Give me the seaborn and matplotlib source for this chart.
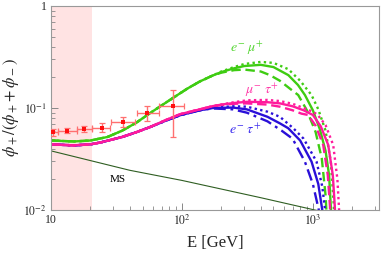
import matplotlib
matplotlib.use("Agg")
import matplotlib.pyplot as plt
import matplotlib.ticker as mticker
import numpy as np
import seaborn as sns

# --- data (E in GeV, ratio phi+/(phi+ + phi-)) ---
green_low_E = [10, 15, 20, 27, 35, 45, 57, 70, 85, 110, 137, 170]
green_low_v = [0.048, 0.047, 0.048, 0.052, 0.060, 0.072, 0.089, 0.106, 0.125, 0.155, 0.182, 0.207]

green_solid_E = [200, 250, 300, 400, 500, 650, 770, 870, 1000, 1130, 1250, 1330, 1370, 1385]
green_solid_v = [0.225, 0.245, 0.258, 0.265, 0.252, 0.21, 0.168, 0.134, 0.095, 0.062, 0.038, 0.022, 0.011, 0.008]
green_dot_E = [200, 250, 300, 400, 500, 650, 800, 977, 1100, 1250, 1370, 1440, 1460]
green_dot_v = [0.228, 0.252, 0.270, 0.283, 0.277, 0.24, 0.185, 0.134, 0.097, 0.06, 0.03, 0.012, 0.008]
green_dash_E = [200, 250, 300, 400, 470, 560, 667, 773, 900, 1050, 1170, 1250, 1280]
green_dash_v = [0.222, 0.235, 0.238, 0.228, 0.21, 0.185, 0.155, 0.134, 0.095, 0.058, 0.032, 0.014, 0.008]

mag_low_E = [10, 15, 20, 24, 35, 45, 57, 75, 97, 137, 170]
mag_low_v = [0.044, 0.043, 0.044, 0.046, 0.052, 0.058, 0.065, 0.076, 0.087, 0.097, 0.104]

mag_solid_E = [200, 250, 313, 450, 560, 700, 850, 1000, 1150, 1310, 1420, 1470, 1485]
mag_solid_v = [0.108, 0.112, 0.115, 0.114, 0.111, 0.104, 0.095, 0.0855, 0.066, 0.0434, 0.022, 0.011, 0.008]
mag_dot_E = [200, 250, 313, 450, 560, 700, 850, 1000, 1090, 1250, 1430, 1540, 1580, 1600]
mag_dot_v = [0.108, 0.114, 0.119, 0.12, 0.117, 0.11, 0.1, 0.092, 0.0855, 0.068, 0.0434, 0.02, 0.011, 0.008]
mag_dash_E = [200, 250, 313, 450, 560, 700, 820, 920, 1050, 1200, 1300, 1350, 1365]
mag_dash_v = [0.107, 0.110, 0.111, 0.108, 0.103, 0.095, 0.088, 0.0855, 0.067, 0.0434, 0.022, 0.011, 0.008]

blue_low_E = [10, 15, 20, 24, 35, 45, 57, 75, 97, 137]
blue_low_v = [0.044, 0.043, 0.044, 0.046, 0.052, 0.058, 0.065, 0.075, 0.085, 0.095]

blue_solid_E = [172, 245, 313, 450, 560, 648, 800, 977, 1100, 1180, 1195]
blue_solid_v = [0.100, 0.101, 0.097, 0.082, 0.0707, 0.0634, 0.048, 0.0298, 0.018, 0.010, 0.008]
blue_dot_E = [172, 245, 313, 450, 560, 708, 850, 1067, 1180, 1240, 1255]
blue_dot_v = [0.101, 0.104, 0.103, 0.092, 0.082, 0.0634, 0.05, 0.0298, 0.017, 0.010, 0.008]
blue_dd_E = [172, 245, 313, 450, 577, 700, 869, 1000, 1110, 1125]
blue_dd_v = [0.099, 0.097, 0.09, 0.074, 0.060, 0.05, 0.0298, 0.018, 0.010, 0.008]

ms_E = [10, 40, 100, 400, 1000, 2000]
ms_v = [0.038, 0.0245, 0.0195, 0.0132, 0.0101, 0.0083]

# measured points with errors
pts_E = [10.4, 13.3, 17.9, 24.5, 35.7, 54.3, 84.9]
pts_Elo = [9.6, 11.4, 15.9, 20.4, 28.5, 45.0, 67.0]
pts_Ehi = [11.4, 15.9, 20.4, 28.2, 43.9, 67.0, 104.0]
pts_v = [0.058, 0.060, 0.0627, 0.064, 0.073, 0.090, 0.105]
pts_vlo = [0.0532, 0.0565, 0.058, 0.058, 0.0657, 0.075, 0.0524]
pts_vhi = [0.0618, 0.0634, 0.0665, 0.0708, 0.081, 0.105, 0.150]

GREEN = "#3ecc12"
MAGENTA = "#ff1a9c"
BLUE = "#2a0fd8"

sns.set_style("ticks")
plt.rcParams["font.family"] = ["Liberation Serif", "DejaVu Serif"]
plt.rcParams["mathtext.fontset"] = "stix"

fig = plt.figure(figsize=(3.82, 2.56), dpi=100)
ax = fig.add_axes([51 / 382, 46 / 256, 328 / 382, 204 / 256])

ax.axvspan(10, 20.5, color="#ffe3e3", lw=0, zorder=0)

dotted = (0, (1, 1.4))
dashed = (0, (4, 2))
dashdot = (0, (5, 2, 1.2, 2))

def curve(low_E, low_v, E, v, color, ls):
    sns.lineplot(x=low_E + E, y=low_v + v, ax=ax, color=color, lw=1.7,
                 linestyle=ls, estimator=None)

curve(green_low_E, green_low_v, green_dash_E, green_dash_v, GREEN, dashed)
curve(green_low_E, green_low_v, green_dot_E, green_dot_v, GREEN, dotted)
curve(green_low_E, green_low_v, green_solid_E, green_solid_v, GREEN, "-")

curve(blue_low_E, blue_low_v, blue_dd_E, blue_dd_v, BLUE, dashdot)
curve(blue_low_E, blue_low_v, blue_dot_E, blue_dot_v, BLUE, dotted)
curve(blue_low_E, blue_low_v, blue_solid_E, blue_solid_v, BLUE, "-")

curve(mag_low_E, mag_low_v, mag_dash_E, mag_dash_v, MAGENTA, dashed)
curve(mag_low_E, mag_low_v, mag_dot_E, mag_dot_v, MAGENTA, dotted)
curve(mag_low_E, mag_low_v, mag_solid_E, mag_solid_v, MAGENTA, "-")

sns.lineplot(x=ms_E, y=ms_v, ax=ax, color="#2f5e22", lw=0.8, estimator=None)

# data points
pE = np.array(pts_E)
pv = np.array(pts_v)
xerr = [pE - np.array(pts_Elo), np.array(pts_Ehi) - pE]
yerr = [pv - np.array(pts_vlo), np.array(pts_vhi) - pv]
ax.errorbar(pE, pv, xerr=xerr, yerr=yerr, fmt="none", ecolor="#ff7070",
            elinewidth=1.0, capsize=2, capthick=0.9, zorder=5)
sns.scatterplot(x=pts_E, y=pts_v, ax=ax, color="#ff1010", marker="s", s=9,
                edgecolor="none", zorder=6)

ax.set_xscale("log")
ax.set_yscale("log")
ax.set_xlim(10, 3200)
ax.set_ylim(0.01, 1)

ax.xaxis.set_major_locator(mticker.FixedLocator([10, 100, 1000]))
ax.xaxis.set_major_formatter(mticker.FixedFormatter(["10", r"$10^2$", r"$10^3$"]))
ax.yaxis.set_major_locator(mticker.FixedLocator([0.01, 0.1, 1]))
ax.yaxis.set_major_formatter(mticker.FixedFormatter([r"$10^{-2}$", r"$10^{-1}$", "1"]))
ax.xaxis.set_minor_locator(mticker.LogLocator(subs=np.arange(2, 10)))
ax.yaxis.set_minor_locator(mticker.LogLocator(subs=np.arange(2, 10)))
ax.xaxis.set_minor_formatter(mticker.NullFormatter())
ax.yaxis.set_minor_formatter(mticker.NullFormatter())

ax.tick_params(which="both", direction="in", color="#888888", labelsize=8.5,
               top=False, right=False)
ax.tick_params(which="major", length=5, width=0.7, pad=3)
ax.tick_params(which="minor", length=3, width=0.6)
for sp in ax.spines.values():
    sp.set_visible(True)
    sp.set_color("#999999")
    sp.set_linewidth(0.8)

ax.set_xlabel("E [GeV]", fontsize=12, labelpad=5)
ax.set_ylabel(r"$\phi_+/(\phi_+\!+\phi_-)$", fontsize=12, labelpad=2)

ax.text(313, 0.387, r"$e^{-}\ \mu^{+}$", color="#55d633", fontsize=10, ha="center", va="center")
ax.text(408, 0.150, r"$\mu^{-}\ \tau^{+}$", color="#ff3aa8", fontsize=10, ha="center", va="center")
ax.text(302, 0.0608, r"$e^{-}\ \tau^{+}$", color="#3a2aee", fontsize=10, ha="center", va="center")
ax.text(32.4, 0.0197, "MS", color="black", fontsize=8, ha="center", va="center")

fig.savefig("out.png", dpi=100)
